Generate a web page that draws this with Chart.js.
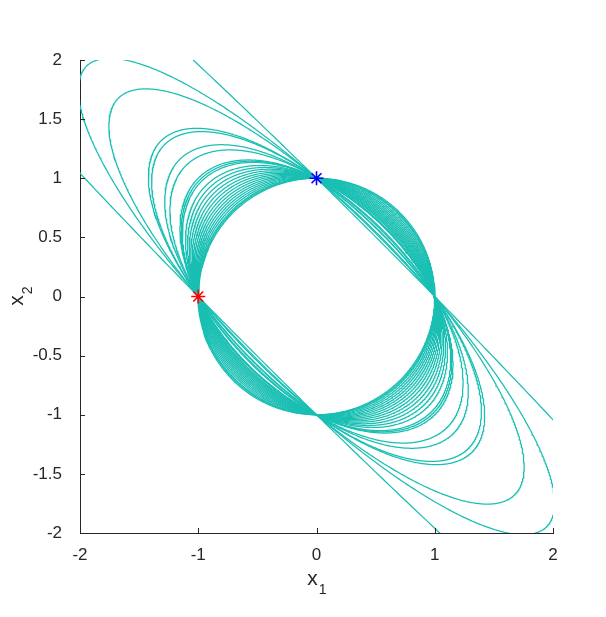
<!DOCTYPE html>
<html>
<head>
<meta charset="utf-8">
<script src="https://cdn.jsdelivr.net/npm/chart.js@4.4.0/dist/chart.umd.min.js"></script>
<style>
  html,body{margin:0;background:#fff}
  #wrap{width:606px;height:617px}
</style>
</head>
<body>
<div id="wrap"><canvas id="c"></canvas></div>
<script>
// x1 where each curve crosses the line x2 = 1 (the crossing away from the blue star)
const crossAtX2eq1 = [-1.96, -1.736, -1.644, -1.422, -1.394, -1.254, -1.182, -1.0, -0.972, -0.944,
                      -0.86, -0.80, -0.74, -0.68, -0.62, -0.56, -0.50, -0.44, -0.38, -0.32,
                      -0.26, -0.20, -0.14, -0.08, -0.04, 0];
const startPt = [{x:-1, y:0}];   // red star
const endPt   = [{x:0,  y:1}];   // blue star
const xTicks = [-2, -1, 0, 1, 2];
const yTicks = [-2, -1.5, -1, -0.5, 0, 0.5, 1, 1.5, 2];

const TEAL = 'rgb(26,191,179)', AX = '#262626';

// every curve is the conic x1^2 + x2^2 + 2c*x1*x2 = 1 through (±1,0),(0,±1); crossing of x2=1 is at x1 = -2c
function conic(x0){
  const c = -x0/2, a = 1/Math.sqrt(1+c), b = 1/Math.sqrt(1-c), pts = [];
  for(let i=0;i<=720;i++){
    const t = i/720*2*Math.PI, u = a*Math.cos(t), v = b*Math.sin(t);
    pts.push({x:(u-v)/Math.SQRT2, y:(u+v)/Math.SQRT2});
  }
  return pts;
}

const mkStar = (data,col)=>({data, showLine:false, pointStyle:'star', pointRadius:7, borderColor:col, borderWidth:1.6, backgroundColor:col});
const mkCurve = x0=>({data:conic(x0), showLine:true, pointRadius:0, borderColor:TEAL, borderWidth:1.25, clip:0});

const deco = {
  id:'deco',
  afterDraw(ch){
    const {ctx, chartArea:a, scales:{x,y}} = ch;
    ctx.save();
    // inward ticks (MATLAB style)
    ctx.strokeStyle = AX; ctx.lineWidth = 1;
    ctx.beginPath();
    xTicks.forEach(v=>{ const p=Math.round(x.getPixelForValue(v))+0.5; ctx.moveTo(p,a.bottom); ctx.lineTo(p,a.bottom-5); });
    yTicks.forEach(v=>{ const p=Math.round(y.getPixelForValue(v))+0.5; ctx.moveTo(a.left,p); ctx.lineTo(a.left+5,p); });
    ctx.stroke();

    // axis titles with subscripts
    ctx.fillStyle = AX; ctx.textBaseline = 'alphabetic'; ctx.textAlign = 'left';
    const big = '21px "Liberation Sans", Arial, sans-serif', small = '14px "Liberation Sans", Arial, sans-serif';
    const label = (cx, base, sub)=>{
      ctx.font = big; const w1 = ctx.measureText('x').width;
      ctx.font = small; const w2 = ctx.measureText(sub).width;
      const s = cx - (w1+w2)/2;
      ctx.font = big;   ctx.fillText('x', s, base);
      ctx.font = small; ctx.fillText(sub, s+w1+1, base+9);
    };
    label((a.left+a.right)/2, 585, '1');
    ctx.translate(23, (a.top+a.bottom)/2);
    ctx.rotate(-Math.PI/2);
    label(0, 0, '2');
    ctx.restore();
  }
};

const tickFont = {family:'"Liberation Sans", Arial, sans-serif', size:17};
const fmt = v => String(v);

new Chart(document.getElementById('c'), {
  type:'scatter',
  data:{datasets:[mkStar(startPt,'#ff0000'), mkStar(endPt,'#0000ff'), ...crossAtX2eq1.map(mkCurve)]},
  options:{
    responsive:true, maintainAspectRatio:false, animation:false,
    layout:{padding:{left:0, top:60, right:53, bottom:0}},
    plugins:{legend:{display:false}, tooltip:{enabled:false}},
    scales:{
      x:{min:-2, max:2, grid:{display:false}, border:{display:true, color:AX, width:1},
         afterBuildTicks:s=>{ s.ticks = xTicks.map(v=>({value:v})); },
         afterFit:s=>{ s.height = 84; },
         ticks:{color:AX, font:tickFont, padding:4, maxRotation:0, callback:fmt}},
      y:{min:-2, max:2, grid:{display:false}, border:{display:true, color:AX, width:1},
         afterBuildTicks:s=>{ s.ticks = yTicks.map(v=>({value:v})); },
         afterFit:s=>{ s.width = 80; },
         ticks:{color:AX, font:tickFont, padding:10, callback:fmt}}
    }
  },
  plugins:[deco]
});
</script>
</body>
</html>
